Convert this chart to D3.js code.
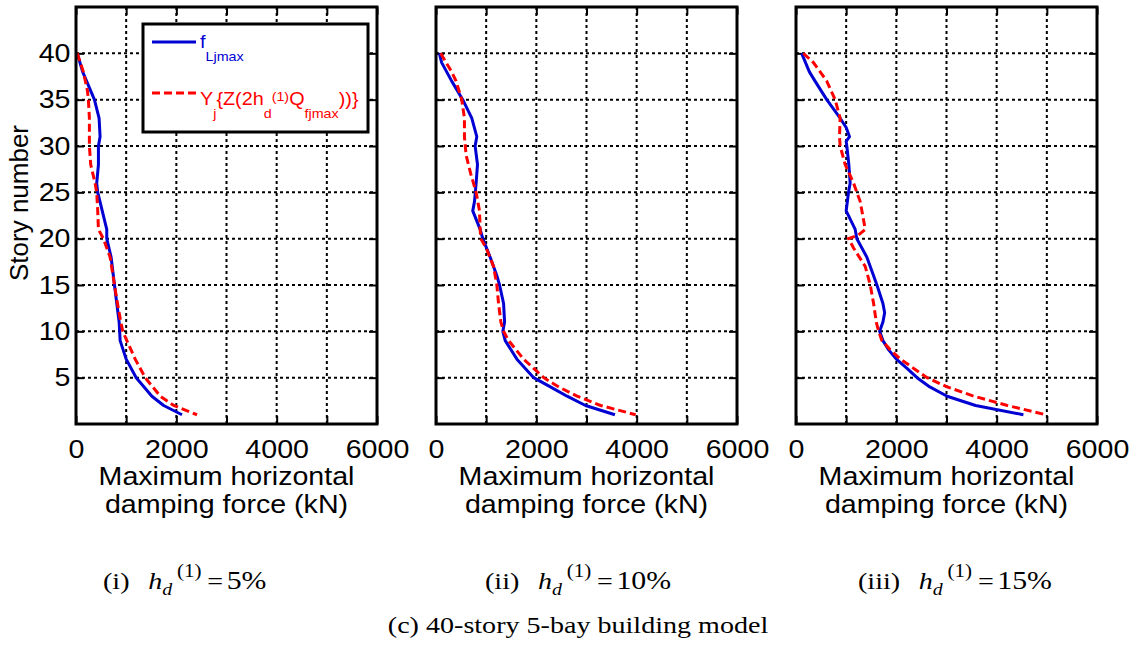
<!DOCTYPE html>
<html>
<head>
<meta charset="utf-8">
<script src="https://cdn.jsdelivr.net/npm/d3@7"></script>
<style>
  body { margin: 0; background: #fff; }
  svg { display: block; }
</style>
</head>
<body>
<div id="plot"></div>
<script>
/* Step 1
 * Data
 */
// =================================
var xTicks = [0, 1000, 2000, 3000, 4000, 5000, 6000];
var xTickLabels = ["0", "", "2000", "", "4000", "", "6000"];
var yTicks = [5, 10, 15, 20, 25, 30, 35, 40];
var captionNums = ["(i)", "(ii)", "(iii)"];
var captionPcts = ["5%", "10%", "15%"];

// (i) hd = 5%
var storyL5 = [40, 38, 35, 33, 31, 30, 28, 26, 25, 21, 20, 18, 15, 13, 11, 9, 7, 5, 3, 2, 1];
var forceL5 = [25, 133, 367, 460, 480, 447, 447, 413, 433, 613, 613, 700, 767, 813, 860, 880, 1000, 1200, 1513, 1747, 2113];
var storyY5 = [40, 38, 36, 35, 33, 31, 30, 28, 26, 25, 23, 21, 20, 18, 15, 13, 11, 10, 9, 7, 5, 3, 2, 1];
var forceY5 = [25, 147, 227, 247, 267, 267, 267, 293, 380, 413, 433, 447, 547, 680, 767, 827, 893, 933, 1013, 1180, 1380, 1680, 1947, 2413];

// (ii) hd = 10%
var storyL10 = [40, 39, 37, 35, 33, 31, 30, 28, 26, 24, 23, 21, 20, 18, 16, 15, 13, 11, 10, 9, 7, 5, 4, 3, 2, 1];
var forceL10 = [67, 113, 313, 533, 713, 813, 780, 827, 800, 767, 733, 880, 933, 1080, 1213, 1267, 1347, 1367, 1333, 1380, 1613, 1947, 2280, 2613, 2980, 3567];
var storyY10 = [40, 38, 37, 35, 33, 31, 29, 27, 25, 23, 21, 20, 19, 17, 15, 13, 11, 10, 9, 7, 6, 5, 4, 3, 2, 1];
var forceY10 = [93, 313, 400, 513, 567, 567, 600, 693, 800, 867, 880, 893, 1000, 1147, 1213, 1247, 1293, 1347, 1447, 1747, 1947, 2147, 2447, 2813, 3280, 3980];

// (iii) hd = 15%
var storyL15 = [40, 38, 37, 35, 33, 32, 31, 30.5, 30, 28, 26, 25, 23, 21, 20, 18, 15, 13, 12, 11, 10, 9, 8, 7, 6, 5, 4, 3, 2, 1];
var forceL15 = [113, 267, 380, 613, 880, 1000, 1067, 1000, 1013, 1053, 1080, 1047, 1000, 1180, 1213, 1413, 1613, 1733, 1767, 1733, 1667, 1733, 1847, 2000, 2213, 2413, 2667, 3013, 3580, 4533];
var storyY15 = [40, 39, 37, 35, 33, 31, 30, 28, 26, 24, 22, 21, 20.4, 20, 19, 17, 15, 13, 11, 10, 9, 8, 7, 6, 5, 4, 3, 2, 1];
var forceY15 = [147, 347, 613, 780, 880, 867, 880, 980, 1147, 1280, 1347, 1380, 1247, 1047, 1147, 1380, 1480, 1547, 1600, 1647, 1713, 1880, 2080, 2347, 2613, 3013, 3547, 4213, 4980];

var panels = [
    { left: 76,  L: d3.zip(storyL5, forceL5),   Y: d3.zip(storyY5, forceY5),   capX: 103 },
    { left: 436, L: d3.zip(storyL10, forceL10), Y: d3.zip(storyY10, forceY10), capX: 485 },
    { left: 796, L: d3.zip(storyL15, forceL15), Y: d3.zip(storyY15, forceY15), capX: 858 }
];

/* Step 2
 * Workspace
 */
// =================================
var svgWidth = 1138;
var svgHeight = 646;
var plotTop = 7;
var width = 301;
var height = 417;
var stretch = "scale(1.1,1)";
var stretchSerif = "scale(1.17,1)";
var blue = "#0000d2";
var red = "#ff0000";
var sans = "'Liberation Sans', Arial, sans-serif";
var serif = "'Liberation Serif', 'Times New Roman', serif";

var svg = d3.select("#plot")
    .append("svg")
    .attr("width", svgWidth)
    .attr("height", svgHeight);

var xScale = d3.scaleLinear().domain([0, 6000]).range([0, width]);
var yScale = d3.scaleLinear().domain([0, 45]).range([height, 0]);

var line = d3.line()
    .x(d => xScale(d[1]))
    .y(d => yScale(d[0]));

/* Step 3
 * Draw each panel
 */
// =================================
panels.forEach(function (p, k) {
    var g = svg.append("g")
        .attr("transform", `translate(${p.left}, ${plotTop})`);

    // dotted grid
    g.append("g").selectAll("line")
        .data(xTicks.slice(1, -1))
        .enter().append("line")
        .attr("x1", d => xScale(d)).attr("x2", d => xScale(d))
        .attr("y1", 0).attr("y2", height)
        .attr("stroke", "#000").attr("stroke-width", 2)
        .attr("stroke-dasharray", "3,3");
    g.append("g").selectAll("line")
        .data(yTicks)
        .enter().append("line")
        .attr("y1", d => yScale(d)).attr("y2", d => yScale(d))
        .attr("x1", 0).attr("x2", width)
        .attr("stroke", "#000").attr("stroke-width", 2)
        .attr("stroke-dasharray", "3,3");

    // axes with inward ticks
    var bottom = g.append("g")
        .attr("transform", `translate(0, ${height})`)
        .call(d3.axisBottom(xScale).tickValues(xTicks)
            .tickFormat((d, i) => xTickLabels[i]).tickSize(-8).tickPadding(16));
    var topAx = g.append("g")
        .call(d3.axisTop(xScale).tickValues(xTicks).tickFormat("").tickSize(-8));
    var left = g.append("g")
        .call(d3.axisLeft(yScale).tickValues(yTicks)
            .tickFormat(k === 0 ? d3.format("d") : () => "").tickSize(-8).tickPadding(5));
    var right = g.append("g")
        .attr("transform", `translate(${width}, 0)`)
        .call(d3.axisRight(yScale).tickValues(yTicks).tickFormat("").tickSize(-8));

    [bottom, topAx, left, right].forEach(function (a) {
        a.select(".domain").remove();
        a.selectAll("line").attr("stroke-width", 2);
        a.selectAll("text")
            .attr("font-family", sans)
            .attr("font-size", 26)
            .attr("fill", "#000")
            .attr("transform", stretch);
    });

    // curves
    g.append("path")
        .datum(p.L)
        .attr("d", line)
        .attr("fill", "none")
        .attr("stroke", blue)
        .attr("stroke-width", 3)
        .attr("stroke-linejoin", "round");
    g.append("path")
        .datum(p.Y)
        .attr("d", line)
        .attr("fill", "none")
        .attr("stroke", red)
        .attr("stroke-width", 3)
        .attr("stroke-dasharray", "8,4");

    // frame
    g.append("rect")
        .attr("width", width).attr("height", height)
        .attr("fill", "none")
        .attr("stroke", "#000").attr("stroke-width", 3);

    // x-axis title
    ["Maximum horizontal", "damping force (kN)"].forEach(function (t, i) {
        g.append("g")
            .attr("transform", `translate(${width / 2}, ${478 + i * 28}) ${stretch}`)
            .append("text")
            .attr("text-anchor", "middle")
            .attr("font-family", sans)
            .attr("font-size", 26)
            .text(t);
    });

    // caption (i) hd(1) = 5%
    var cap = svg.append("g")
        .attr("transform", `translate(${p.capX}, 589) ${stretchSerif}`)
        .append("text")
        .attr("font-family", serif)
        .attr("font-size", 24);
    cap.append("tspan").text(captionNums[k]);
    cap.append("tspan").attr("dx", 16).attr("font-style", "italic").text("h");
    cap.append("tspan").attr("dy", 6).attr("font-size", 17).attr("font-style", "italic").text("d");
    cap.append("tspan").attr("dx", 4).attr("dy", -18).attr("font-size", 18).text("(1)");
    cap.append("tspan").attr("dx", 5).attr("dy", 12).text("=");
    cap.append("tspan").attr("dx", 3).attr("font-size", 25.5).text(captionPcts[k]);
});

/* Step 4
 * Legend (first panel only)
 */
// =================================
var lg = svg.append("g").attr("transform", `translate(${panels[0].left}, ${plotTop})`);
lg.append("rect")
    .attr("x", 67).attr("y", 17).attr("width", 225).attr("height", 108)
    .attr("fill", "#fff").attr("stroke", "#000").attr("stroke-width", 3);
lg.append("line")
    .attr("x1", 76).attr("x2", 120).attr("y1", 35).attr("y2", 35)
    .attr("stroke", blue).attr("stroke-width", 3);
lg.append("line")
    .attr("x1", 76).attr("x2", 120).attr("y1", 86).attr("y2", 86)
    .attr("stroke", red).attr("stroke-width", 3).attr("stroke-dasharray", "8,4");

var t1 = lg.append("g")
    .attr("transform", `translate(124, 41) ${stretch}`)
    .append("text").attr("font-family", sans).attr("font-size", 18).attr("fill", blue);
t1.append("tspan").text("f");
t1.append("tspan").attr("dy", 13).attr("font-size", 13).text("Ljmax");

var t2 = lg.append("g")
    .attr("transform", `translate(124, 98) ${stretch}`)
    .append("text").attr("font-family", sans).attr("font-size", 18).attr("fill", red);
t2.append("tspan").text("Y");
t2.append("tspan").attr("dy", 13).attr("font-size", 13).text("j");
t2.append("tspan").attr("dy", -13).text("{Z(2h");
t2.append("tspan").attr("dy", 13).attr("font-size", 13).text("d");
t2.append("tspan").attr("dy", -17).attr("font-size", 13).text("(1)");
t2.append("tspan").attr("dy", 4).text("Q");
t2.append("tspan").attr("dy", 13).attr("font-size", 13).text("fjmax");
t2.append("tspan").attr("dy", -13).text("))}");

/* Step 5
 * Y label and figure caption
 */
// =================================
svg.append("text")
    .attr("transform", "translate(28, 203) rotate(-90)")
    .attr("text-anchor", "middle")
    .attr("font-family", sans)
    .attr("font-size", 26)
    .text("Story number");

svg.append("g")
    .attr("transform", `translate(578, 633) ${stretchSerif}`)
    .append("text")
    .attr("text-anchor", "middle")
    .attr("font-family", serif)
    .attr("font-size", 24)
    .text("(c) 40-story 5-bay building model");
</script>
</body>
</html>
